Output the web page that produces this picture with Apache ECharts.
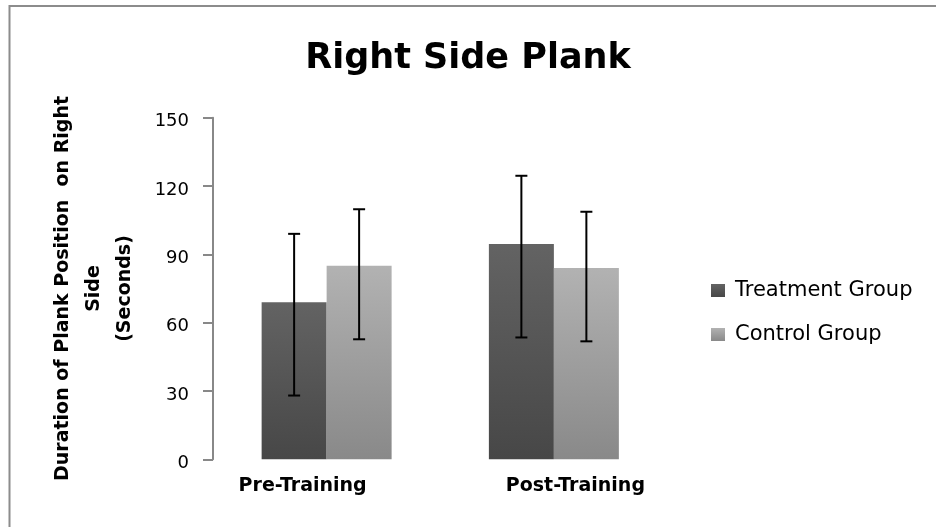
<!DOCTYPE html>
<html>
<head>
<meta charset="utf-8">
<script src="https://cdn.jsdelivr.net/npm/echarts@6/dist/echarts.min.js"></script>
<style>
html,body{margin:0;padding:0;background:#fff;}
#chart{width:936px;height:527px;}
</style>
</head>
<body>
<div id="chart"></div>
<script>
var categories = ['Pre-Training', 'Post-Training'];
var treatmentMeans = [69, 94.5];
var controlMeans = [85, 84];
var treatmentLow = [28, 53.5];
var treatmentHigh = [99, 124.5];
var controlLow = [52.7, 51.8];
var controlHigh = [109.8, 108.7];
var yTicks = [0, 30, 60, 90, 120, 150];

var BAR_FRAC = 0.286;

function errData(lows, highs) {
  return categories.map(function (c, i) { return [i, lows[i], highs[i]]; });
}
function errRender(side) {
  return function (params, api) {
    var idx = api.value(0);
    var bandW = api.size([1, 0])[0];
    var c = api.coord([idx, 0]);
    var x = c[0] + side * bandW * BAR_FRAC / 2;
    var lo = api.coord([idx, api.value(1)])[1];
    var hi = api.coord([idx, api.value(2)])[1];
    var cap = 6;
    var st = { stroke: '#000', lineWidth: 2 };
    return {
      type: 'group',
      children: [
        { type: 'line', shape: { x1: x, y1: lo, x2: x, y2: hi }, style: st },
        { type: 'line', shape: { x1: x - cap, y1: hi, x2: x + cap, y2: hi }, style: st },
        { type: 'line', shape: { x1: x - cap, y1: lo, x2: x + cap, y2: lo }, style: st }
      ]
    };
  };
}

var darkGrad = new echarts.graphic.LinearGradient(0, 0, 0, 1, [
  { offset: 0, color: '#636363' }, { offset: 1, color: '#474747' }]);
var lightGrad = new echarts.graphic.LinearGradient(0, 0, 0, 1, [
  { offset: 0, color: '#b2b2b2' }, { offset: 1, color: '#898989' }]);

var chart = echarts.init(document.getElementById('chart'), null, { renderer: 'canvas' });
chart.setOption({
  backgroundColor: '#ffffff',
  animation: false,
  graphic: [{
    type: 'rect', silent: true,
    shape: { x: 9.5, y: 6, width: 1000, height: 1000 },
    style: { fill: 'none', stroke: '#8c8c8c', lineWidth: 2 }
  }],
  title: {
    text: 'Right Side Plank',
    left: 'center', top: 36,
    textStyle: { fontFamily: 'DejaVu Sans', fontWeight: 'bold', fontSize: 35, color: '#000' }
  },
  legend: {
    orient: 'vertical', left: 711, top: 280, padding: 0,
    itemWidth: 14, itemHeight: 13, itemGap: 23,
    icon: 'rect',
    data: ['Treatment Group', 'Control Group'],
    textStyle: { fontFamily: 'DejaVu Sans', fontSize: 21, color: '#000', padding: [0, 0, 0, 5] }
  },
  grid: { left: 213, right: 268.5, top: 117.7, bottom: 67.7 },
  xAxis: {
    type: 'category', data: categories,
    axisLine: { show: false }, axisTick: { show: false },
    axisLabel: {
      margin: 17,
      formatter: function (v, i) { return i === 0 ? '{a|' + v + '}' : '{b|' + v + '}'; },
      rich: {
        a: { fontFamily: 'DejaVu Sans', fontWeight: 'bold', fontSize: 19, color: '#000', padding: [0, 48, 0, 0] },
        b: { fontFamily: 'DejaVu Sans', fontWeight: 'bold', fontSize: 19, color: '#000', padding: [0, 0, 0, 43] }
      }
    }
  },
  yAxis: {
    type: 'value', min: yTicks[0], max: yTicks[yTicks.length - 1], interval: 30,
    name: 'Duration of Plank Position  on Right\nSide\n(Seconds)',
    nameLocation: 'middle', nameGap: 72,
    nameTextStyle: { fontFamily: 'DejaVu Sans', fontWeight: 'bold', fontSize: 19, color: '#000', lineHeight: 31 },
    axisLine: { show: true, lineStyle: { color: '#888888', width: 2 } },
    axisTick: { show: true, length: 10, lineStyle: { color: '#888888', width: 2 } },
    splitLine: { show: false },
    axisLabel: { margin: 24, fontFamily: 'DejaVu Sans', fontSize: 18, color: '#000', verticalAlign: 'top', lineHeight: 8 }
  },
  series: [
    { name: 'Treatment Group', type: 'bar', data: treatmentMeans, barWidth: (BAR_FRAC * 100) + '%', barGap: '0%',
      itemStyle: { color: darkGrad } },
    { name: 'Control Group', type: 'bar', data: controlMeans, barWidth: (BAR_FRAC * 100) + '%', barGap: '0%',
      itemStyle: { color: lightGrad } },
    { type: 'custom', data: errData(treatmentLow, treatmentHigh), renderItem: errRender(-1), encode: { x: 0, y: [1, 2] }, z: 10 },
    { type: 'custom', data: errData(controlLow, controlHigh), renderItem: errRender(1), encode: { x: 0, y: [1, 2] }, z: 10 }
  ]
});
</script>
</body>
</html>
